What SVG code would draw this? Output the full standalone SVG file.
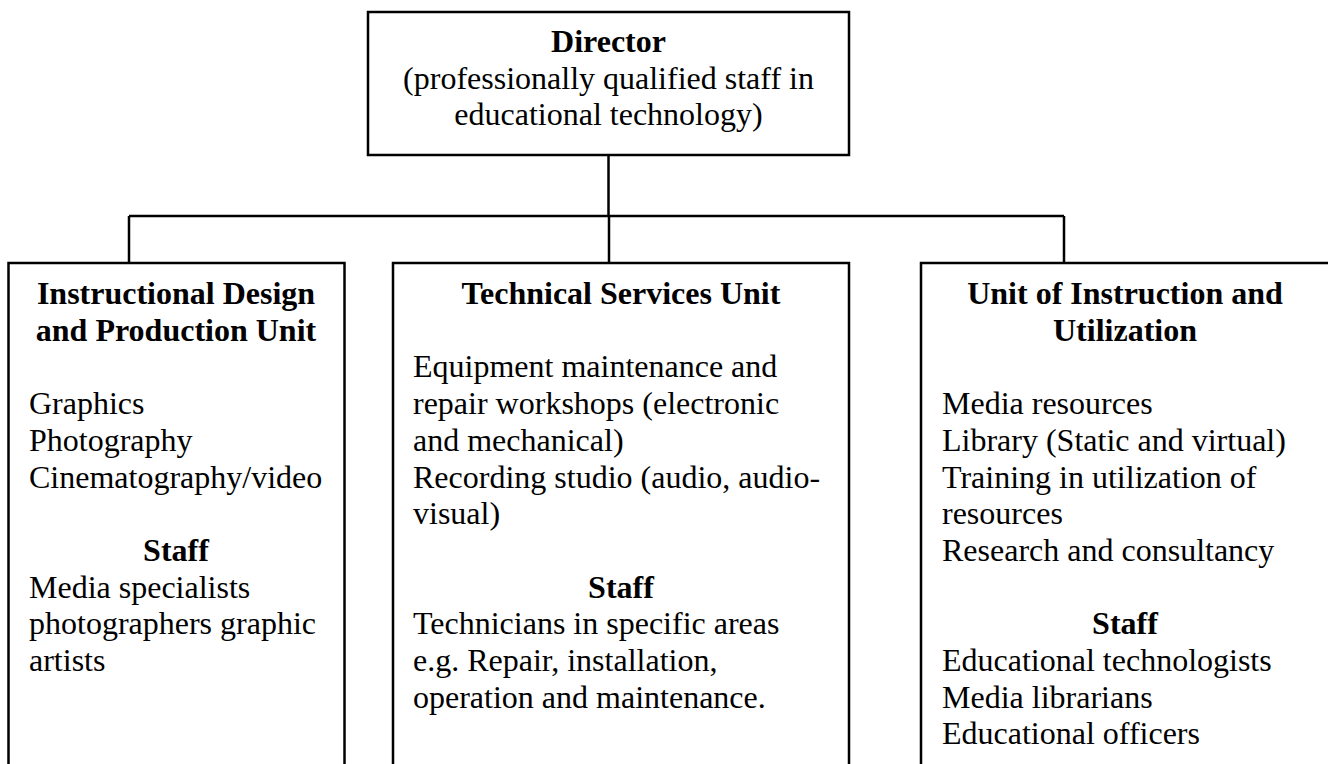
<svg xmlns="http://www.w3.org/2000/svg" width="1328" height="764" viewBox="0 0 1328 764">
  <style>
    .box { fill: #ffffff; stroke: #000000; stroke-width: 2.5; }
    .link { fill: none; stroke: #000000; stroke-width: 2.5; }
    text { font-family: "Liberation Serif", "Times New Roman", serif; font-size: 32px; fill: #000000; }
    .title { font-weight: bold; text-anchor: middle; }
    .mid { text-anchor: middle; }
  </style>

  <!-- connectors: director down to the bus, bus down to each unit -->
  <g id="connectors">
    <path class="link" d="M608.5 155 V216"/>
    <path class="link" d="M129 216 H1064"/>
    <path class="link" d="M129 216 V263"/>
    <path class="link" d="M609 216 V263"/>
    <path class="link" d="M1064 216 V263"/>
  </g>

  <g id="director">
    <rect class="box" x="368" y="12" width="481" height="143"/>
    <text class="title" x="608.5" y="52">Director</text>
    <text class="mid" x="608.5" y="88.7">(professionally qualified staff in</text>
    <text class="mid" x="608.5" y="125.4">educational technology)</text>
  </g>

  <!-- unit boxes run past the bottom edge of the page -->
  <g id="design-production-unit">
    <rect class="box" x="8.5" y="263" width="336" height="540"/>
    <text class="title" x="176" y="304">Instructional Design</text>
    <text class="title" x="176" y="340.7">and Production Unit</text>
    <text x="29" y="414.1">Graphics</text>
    <text x="29" y="450.8">Photography</text>
    <text x="29" y="487.5">Cinematography/video</text>
    <text class="title" x="176" y="560.9">Staff</text>
    <text x="29" y="597.6">Media specialists</text>
    <text x="29" y="634.3">photographers graphic</text>
    <text x="29" y="671">artists</text>
  </g>

  <g id="technical-services-unit">
    <rect class="box" x="393" y="263" width="456" height="540"/>
    <text class="title" x="621" y="304">Technical Services Unit</text>
    <text x="413" y="377.4">Equipment maintenance and</text>
    <text x="413" y="414.1">repair workshops (electronic</text>
    <text x="413" y="450.8">and mechanical)</text>
    <text x="413" y="487.5">Recording studio (audio, audio-</text>
    <text x="413" y="524.2">visual)</text>
    <text class="title" x="621" y="597.6">Staff</text>
    <text x="413" y="634.3">Technicians in specific areas</text>
    <text x="413" y="671">e.g. Repair, installation,</text>
    <text x="413" y="707.7">operation and maintenance.</text>
  </g>

  <g id="instruction-utilization-unit">
    <rect class="box" x="921" y="263" width="420" height="540"/>
    <text class="title" x="1125" y="304">Unit of Instruction and</text>
    <text class="title" x="1125" y="340.7">Utilization</text>
    <text x="942" y="414.1">Media resources</text>
    <text x="942" y="450.8">Library (Static and virtual)</text>
    <text x="942" y="487.5">Training in utilization of</text>
    <text x="942" y="524.2">resources</text>
    <text x="942" y="560.9">Research and consultancy</text>
    <text class="title" x="1125" y="634.3">Staff</text>
    <text x="942" y="671">Educational technologists</text>
    <text x="942" y="707.7">Media librarians</text>
    <text x="942" y="744.4">Educational officers</text>
  </g>
</svg>
